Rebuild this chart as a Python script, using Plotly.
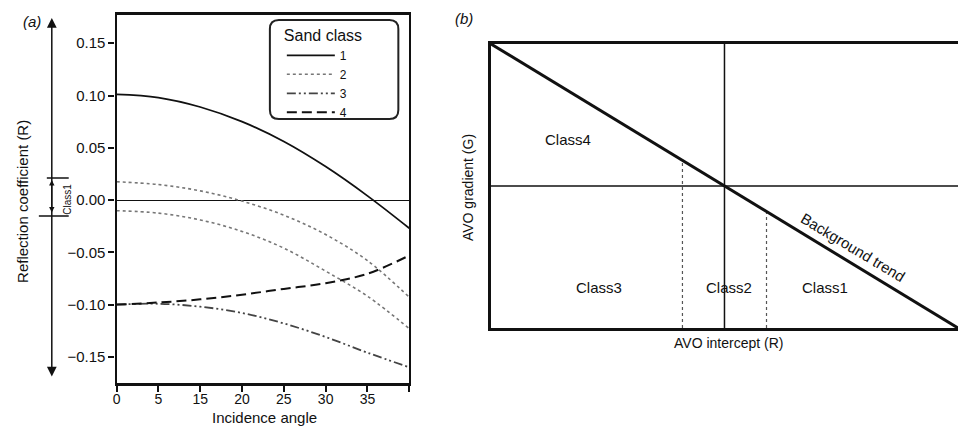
import plotly.graph_objects as go

W, H = 958, 428
FONT = "Liberation Sans, Arial, sans-serif"

# ---- panel (a): reflection coefficient vs incidence angle ----
angle = [0, 5, 10, 15, 20, 25, 30, 35]
class1 = [0.101, 0.098, 0.089, 0.075, 0.056, 0.032, 0.004, -0.027]
class2_upper = [0.0175, 0.0148, 0.0088, -0.0010, -0.0145, -0.033, -0.058, -0.093]
class2_lower = [-0.0102, -0.0125, -0.019, -0.030, -0.046, -0.068, -0.092, -0.123]
class3 = [-0.100, -0.0992, -0.102, -0.108, -0.118, -0.131, -0.146, -0.160]
class4 = [-0.100, -0.098, -0.095, -0.0905, -0.085, -0.0795, -0.0705, -0.053]

x_tickvals = [0, 5, 10, 15, 20, 25, 30, 35]
x_ticktext = ["0", "5", "15", "20", "25", "30", "35", ""]
y_tickvals = [-0.15, -0.10, -0.05, 0.00, 0.05, 0.10, 0.15]

# ---- panel (b): AVO intercept / gradient crossplot ----
trend_x, trend_y = [0, 1], [1, 0]
axis_h_x, axis_h_y = [0, 1], [0.5, 0.5]
axis_v_x, axis_v_y = [0.5, 0.5], [0, 1]
class_bounds = [0.41, 0.59]
region_labels = ["Class4", "Class3", "Class2", "Class1"]
region_pos = [(0.166, 0.662), (0.232, 0.144), (0.51, 0.144), (0.716, 0.144)]


def px(x):
    return x / W


def py(y):
    return 1 - y / H


fig = go.Figure()

line_specs = [
    ("1", class1, dict(color="#111", width=1.8, dash="solid"), True),
    ("2", class2_upper, dict(color="#777", width=1.6, dash="dot"), True),
    ("2", class2_lower, dict(color="#777", width=1.6, dash="dot"), False),
    ("3", class3, dict(color="#444", width=1.8, dash="9px,3px,2px,3px,2px,3px"), True),
    ("4", class4, dict(color="#111", width=2.0, dash="10px,5px"), True),
]
for name, vals, ln, show in line_specs:
    fig.add_trace(go.Scatter(
        x=angle, y=vals, mode="lines", name=name, line=dict(shape="spline", **ln),
        showlegend=show, xaxis="x", yaxis="y"))

bline = dict(color="#111", width=1.5)
fig.add_trace(go.Scatter(x=axis_h_x, y=axis_h_y, mode="lines", line=bline,
                         showlegend=False, xaxis="x2", yaxis="y2"))
fig.add_trace(go.Scatter(x=axis_v_x, y=axis_v_y, mode="lines", line=bline,
                         showlegend=False, xaxis="x2", yaxis="y2"))
for b in class_bounds:
    fig.add_trace(go.Scatter(x=[b, b], y=[0, 1 - b], mode="lines",
                             line=dict(color="#555", width=1.2, dash="dot"),
                             showlegend=False, xaxis="x2", yaxis="y2"))
fig.add_trace(go.Scatter(x=trend_x, y=trend_y, mode="lines",
                         line=dict(color="#111", width=3),
                         showlegend=False, xaxis="x2", yaxis="y2"))

axis_common = dict(showgrid=False, linecolor="#111", color="#111")
fig.update_layout(
    width=W, height=H, margin=dict(l=0, r=0, t=0, b=0),
    paper_bgcolor="white", plot_bgcolor="white",
    font=dict(family=FONT, color="#111", size=15),
    xaxis=dict(domain=[px(113), px(407)], range=[0, 35], tickvals=x_tickvals,
               ticktext=x_ticktext, ticks="outside", ticklen=6, tickwidth=2,
               ticklabelstandoff=-5,
               showline=True, linewidth=2.5, mirror=True, zeroline=False,
               tickfont=dict(size=14), **axis_common),
    yaxis=dict(domain=[py(383), py(15)], range=[-0.175, 0.177], tickvals=y_tickvals,
               tickformat=".2f", ticks="outside", ticklen=6, tickwidth=1.5,
               showline=True, linewidth=2.2, mirror=True, zeroline=True,
               zerolinecolor="#111", zerolinewidth=1.3, tickfont=dict(size=15),
               **axis_common),
    xaxis2=dict(domain=[px(489), 1.0], range=[0, 1], showticklabels=False, ticks="",
                showline=True, linewidth=3, mirror=True, zeroline=False,
                anchor="y2", **axis_common),
    yaxis2=dict(domain=[py(328), py(44)], range=[0, 1], showticklabels=False, ticks="",
                showline=True, linewidth=3, mirror=False, zeroline=False,
                anchor="x2", **axis_common),
    legend=dict(x=px(279), y=py(20), xanchor="left", yanchor="top",
                bgcolor="rgba(0,0,0,0)", borderwidth=0, itemwidth=48,
                font=dict(size=12, family=FONT), tracegroupgap=0,
                title=dict(text="Sand class", font=dict(size=16, family=FONT), side="top")),
)

# rounded legend frame
x0, x1, y0, y1, r = px(267), px(396), py(20), py(119), 9
rx, ry = r / W, r / H
path = (f"M {x0 + rx},{y0} L {x1 - rx},{y0} Q {x1},{y0} {x1},{y0 - ry} "
        f"L {x1},{y1 + ry} Q {x1},{y1} {x1 - rx},{y1} "
        f"L {x0 + rx},{y1} Q {x0},{y1} {x0},{y1 + ry} "
        f"L {x0},{y0 - ry} Q {x0},{y0} {x0 + rx},{y0} Z")
fig.add_shape(type="path", path=path, xref="paper", yref="paper",
              line=dict(color="#222", width=2))

# bracket marks beside the reflection axis
fig.add_shape(type="line", xref="paper", yref="paper", x0=px(43), x1=px(65),
              y0=py(178), y1=py(178), line=dict(color="#111", width=1.5))
fig.add_shape(type="line", xref="paper", yref="paper", x0=px(35), x1=px(65),
              y0=py(216), y1=py(216), line=dict(color="#111", width=1.5))

ann = []
# long double-headed arrow
ann.append(dict(x=px(48), y=py(18), xref="paper", yref="paper", ax=0, ay=360,
                text="", showarrow=True, arrowhead=2, arrowside="end+start",
                arrowsize=1.3, arrowwidth=1.5, arrowcolor="#111", standoff=0, startstandoff=0))
ann.append(dict(x=px(48), y=py(180), xref="paper", yref="paper", ax=0, ay=34,
                text="", showarrow=True, arrowhead=2, arrowside="end+start",
                arrowsize=0.9, arrowwidth=1.2, arrowcolor="#111", standoff=0, startstandoff=0))


def label(x, y, text, size, angle=0, ref=("paper", "paper")):
    ann.append(dict(x=x, y=y, xref=ref[0], yref=ref[1], text=text, textangle=angle,
                    showarrow=False, xanchor="center", yanchor="middle",
                    font=dict(size=size)))


label(px(63), py(199), "Class1", 10, -90)
label(px(28), py(22), "<i>(a)</i>", 15)
label(px(462), py(19), "<i>(b)</i>", 15)
label(px(18), py(201), "Reflection coefficient (R)", 15, -90)
label(px(262), py(417), "Incidence angle", 15)
label(px(466), py(188), "AVO gradient (G)", 14, -90)
label(px(728), py(343), "AVO intercept (R)", 14)
for text, (lx, ly) in zip(region_labels, region_pos):
    label(lx, ly, text, 15, ref=("x2", "y2"))
label(0.776, 0.285, "Background trend", 15, 31, ref=("x2", "y2"))
fig.update_layout(annotations=ann)

fig.write_html("out.html")
